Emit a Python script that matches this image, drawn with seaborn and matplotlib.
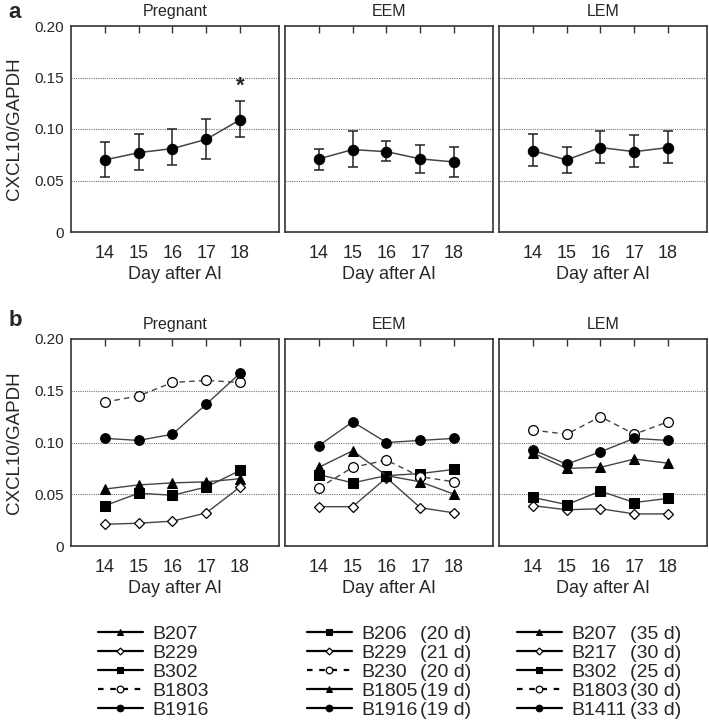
import matplotlib
matplotlib.use("Agg")
import matplotlib.pyplot as plt
import seaborn as sns
import pandas as pd

sns.set_style("white")
plt.rcParams["font.family"] = ["Liberation Sans", "DejaVu Sans"]

days = [14, 15, 16, 17, 18]
groups = ["Pregnant", "EEM", "LEM"]

# panel a: mean and error bar limits
preg_mean = [0.070, 0.077, 0.081, 0.090, 0.109]
preg_lo = [0.053, 0.060, 0.065, 0.071, 0.092]
preg_hi = [0.087, 0.095, 0.100, 0.110, 0.127]
eem_mean = [0.071, 0.080, 0.078, 0.071, 0.068]
eem_lo = [0.060, 0.063, 0.069, 0.057, 0.053]
eem_hi = [0.081, 0.098, 0.088, 0.084, 0.083]
lem_mean = [0.079, 0.070, 0.082, 0.078, 0.082]
lem_lo = [0.064, 0.057, 0.067, 0.063, 0.067]
lem_hi = [0.095, 0.083, 0.098, 0.094, 0.098]

# panel b: individual cows
preg_cows = ["B207", "B229", "B302", "B1803", "B1916"]
preg_B207 = [0.055, 0.059, 0.061, 0.062, 0.065]
preg_B229 = [0.021, 0.022, 0.024, 0.032, 0.057]
preg_B302 = [0.039, 0.051, 0.049, 0.057, 0.073]
preg_B1803 = [0.139, 0.145, 0.158, 0.160, 0.158]
preg_B1916 = [0.104, 0.102, 0.108, 0.137, 0.167]

eem_cows = ["B206", "B229", "B230", "B1805", "B1916"]
eem_days = ["(20 d)", "(21 d)", "(20 d)", "(19 d)", "(19 d)"]
eem_B206 = [0.069, 0.061, 0.068, 0.070, 0.074]
eem_B229 = [0.038, 0.038, 0.066, 0.037, 0.032]
eem_B230 = [0.056, 0.076, 0.083, 0.067, 0.062]
eem_B1805 = [0.076, 0.092, 0.068, 0.062, 0.050]
eem_B1916 = [0.097, 0.120, 0.100, 0.102, 0.104]

lem_cows = ["B207", "B217", "B302", "B1803", "B1411"]
lem_days = ["(35 d)", "(30 d)", "(25 d)", "(30 d)", "(33 d)"]
lem_B207 = [0.090, 0.075, 0.076, 0.084, 0.080]
lem_B217 = [0.039, 0.035, 0.036, 0.031, 0.031]
lem_B302 = [0.047, 0.040, 0.053, 0.042, 0.046]
lem_B1803 = [0.112, 0.108, 0.125, 0.108, 0.120]
lem_B1411 = [0.093, 0.079, 0.091, 0.104, 0.102]

# styles
TRI = dict(marker="^", ms=7, mfc="black", mec="black", ls="-")
DIA = dict(marker="D", ms=5, mfc="white", mec="black", mew=0.9, ls="-")
SQ = dict(marker="s", ms=6.5, mfc="black", mec="black", ls="-")
OC = dict(marker="o", ms=7, mfc="white", mec="black", mew=0.9, ls=(0, (4, 3)))
FC = dict(marker="o", ms=7, mfc="black", mec="black", ls="-")

top_data = [(preg_mean, preg_lo, preg_hi), (eem_mean, eem_lo, eem_hi),
            (lem_mean, lem_lo, lem_hi)]
bottom_data = [
    (preg_cows, [preg_B207, preg_B229, preg_B302, preg_B1803, preg_B1916],
     [TRI, DIA, SQ, OC, FC], None),
    (eem_cows, [eem_B206, eem_B229, eem_B230, eem_B1805, eem_B1916],
     [SQ, DIA, OC, TRI, FC], eem_days),
    (lem_cows, [lem_B207, lem_B217, lem_B302, lem_B1803, lem_B1411],
     [TRI, DIA, SQ, OC, FC], lem_days),
]

W, H = 709, 723
fig = plt.figure(figsize=(W / 100, H / 100), dpi=100)

lefts = [71, 285, 499]
width = 208


def make_ax(left, top, bottom):
    return fig.add_axes([left / W, 1 - bottom / H, width / W, (bottom - top) / H])


def style_ax(ax, first, title):
    ax.set_xlim(13.0, 19.15)
    ax.set_ylim(0, 0.20)
    for y in (0.05, 0.10, 0.15):
        ax.axhline(y, color="#777777", lw=0.8, ls=(0, (1, 1)), zorder=0)
    ax.set_xticks(days)
    ax.set_yticks([0, 0.05, 0.10, 0.15, 0.20])
    ax.tick_params(axis="x", direction="in", top=True, bottom=True, length=5,
                   width=1, color="#333333", labelsize=13, pad=9)
    for t in ax.xaxis.get_major_ticks():
        t.tick1line.set_visible(False)
    ax.tick_params(axis="y", length=0, labelsize=11, pad=5)
    if first:
        ax.set_yticklabels(["0", "0.05", "0.10", "0.15", "0.20"])
        ax.set_ylabel("CXCL10/GAPDH", fontsize=13.5, labelpad=8)
    else:
        ax.set_yticklabels([])
        ax.set_ylabel("")
    ax.set_xlabel("Day after AI", fontsize=13, labelpad=3)
    ax.set_title(title, fontsize=11.5, pad=7)
    for s in ax.spines.values():
        s.set_color("#333333")
        s.set_linewidth(1.2)


# panel a
for i, (mean, lo, hi) in enumerate(top_data):
    ax = make_ax(lefts[i], 26, 232)
    df = pd.DataFrame({"day": days, "val": mean})
    err = [[m - l for m, l in zip(mean, lo)], [h - m for m, h in zip(mean, hi)]]
    ax.errorbar(days, mean, yerr=err, fmt="none", ecolor="#222222",
                elinewidth=1.1, capsize=3.5, capthick=1.1, zorder=2)
    sns.lineplot(data=df, x="day", y="val", ax=ax, color="#444444", lw=1.1,
                 marker="o", ms=7.5, mfc="black", mec="black", zorder=3)
    if i == 0:
        ax.text(days[-1], hi[-1] + 0.004, "*", ha="center", va="bottom",
                fontsize=16, fontweight="bold")
    style_ax(ax, i == 0, groups[i])

# panel b
axes_b = []
for i, (cows, series, styles, dlabels) in enumerate(bottom_data):
    ax = make_ax(lefts[i], 339, 546)
    axes_b.append(ax)
    for cow, vals, st in zip(cows, series, styles):
        df = pd.DataFrame({"day": days, "val": vals})
        sns.lineplot(data=df, x="day", y="val", ax=ax, color="#444444", lw=1.0,
                     label=cow, **st)
    style_ax(ax, i == 0, groups[i])

fig.text(0.012, 1 - 12 / H, "a", fontsize=16, fontweight="bold", va="center")
fig.text(0.012, 1 - 320 / H, "b", fontsize=16, fontweight="bold", va="center")

# legends below panel b
leg_x = [98, 307, 517]
legends = []
for i, ax in enumerate(axes_b):
    handles, labels = ax.get_legend_handles_labels()
    leg = ax.legend(handles, labels, loc="upper left",
                    bbox_to_anchor=((leg_x[i] - lefts[i]) / width, (546 - 625) / 207),
                    frameon=False, fontsize=14, handlelength=2.3,
                    handletextpad=0.5, labelspacing=0.08, borderpad=0,
                    borderaxespad=0)
    for h in leg.legend_handles:
        h.set_color("black")
        h.set_linewidth(1.6)
        h.set_markersize(3.5 if h.get_marker() == "D" else 4.8)
        if h.get_marker() == "o" and h.get_markerfacecolor() == "white":
            h.set_linestyle((0, (2.5, 3)))
    legends.append(leg)

fig.canvas.draw()
r = fig.canvas.get_renderer()
for i, dlabels in enumerate([b[3] for b in bottom_data]):
    if dlabels is None:
        continue
    texts = legends[i].get_texts()
    right = max(t.get_window_extent(r).x1 for t in texts)
    for t, d in zip(texts, dlabels):
        bb = t.get_window_extent(r)
        fig.text((right + 2) / W, bb.y0 / H, d, fontsize=14, va="bottom")

fig.savefig("out.png", dpi=100)
